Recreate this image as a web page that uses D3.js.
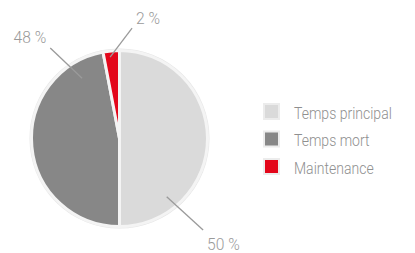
<!DOCTYPE html>
<html>
<head>
<meta charset="utf-8">
<script src="https://cdn.jsdelivr.net/npm/d3@7"></script>
<style>
  body { margin: 0; background: #fff; }
  text { font-family: Roboto, "Open Sans", sans-serif; font-weight: 300; }
</style>
</head>
<body>
<svg id="chart" width="415" height="253"></svg>
<script>
// slice shares as drawn (labels show rounded figures)
var categories = ["Temps principal", "Temps mort", "Maintenance"];
var values = [50, 47, 3];
var labels = ["50 %", "48 %", "2 %"];
var colors = ["#dadada", "#878787", "#e3061a"];

var width = 415, height = 253;
var cx = 119.5, cy = 138.5, radius = 88;

var svg = d3.select("#chart");
var g = svg.append("g").attr("transform", "translate(" + cx + "," + cy + ")");

var pie = d3.pie().sort(null).value(function(d) { return d; });
var arcs = pie(values);
var arc = d3.arc().innerRadius(0).outerRadius(radius);

// soft outer ring
g.append("circle")
  .attr("r", radius + 0.5)
  .attr("fill", "none")
  .attr("stroke", "#e6e6e6")
  .attr("stroke-width", 3);

g.selectAll("path.slice")
  .data(arcs)
  .enter()
  .append("path")
    .attr("class", "slice")
    .attr("d", arc)
    .attr("fill", function(d, i) { return colors[i]; })
    .attr("stroke", "#f4f4f4")
    .attr("stroke-width", 3)
    .attr("stroke-linejoin", "round");

// leader lines: inner/outer angle (deg from top) and radius
var leaders = [
  { a0: 141, r0: 75, a1: 137.6, r1: 124, anchor: "start", dx: 4, dy: 20 },
  { a0: -31.8, r0: 71, a1: -37.4, r1: 114, anchor: "end", dx: -4, dy: -5 },
  { a0: -6.6, r0: 82, a1: 6.5, r1: 111, anchor: "start", dx: 4, dy: -4 }
];

function polar(a, r) {
  var t = a * Math.PI / 180;
  return [r * Math.sin(t), -r * Math.cos(t)];
}

leaders.forEach(function(l, i) {
  var p0 = polar(l.a0, l.r0), p1 = polar(l.a1, l.r1);
  g.append("line")
    .attr("x1", p0[0]).attr("y1", p0[1])
    .attr("x2", p1[0]).attr("y2", p1[1])
    .attr("stroke", "#9a9a9a")
    .attr("stroke-width", 1.3);
  g.append("text")
    .attr("transform", "translate(" + (p1[0] + l.dx) + "," + (p1[1] + l.dy) + ") scale(0.92,1)")
    .attr("text-anchor", l.anchor)
    .attr("font-size", 17)
    .attr("fill", "#9a9a9a")
    .text(labels[i]);
});

// legend
var legend = svg.append("g").attr("transform", "translate(264,104)");
var item = legend.selectAll("g")
  .data(categories)
  .enter()
  .append("g")
    .attr("transform", function(d, i) { return "translate(0," + (i * 27.5) + ")"; });

item.append("rect")
  .attr("width", 15)
  .attr("height", 15)
  .attr("fill", function(d, i) { return colors[i]; })
  .attr("stroke", "#ececec")
  .attr("stroke-width", 2);

item.append("text")
  .attr("transform", "translate(30,14.5) scale(0.85,1)")
  .attr("font-size", 16.5)
  .attr("fill", "#8f8f8f")
  .text(function(d) { return d; });
</script>
</body>
</html>
